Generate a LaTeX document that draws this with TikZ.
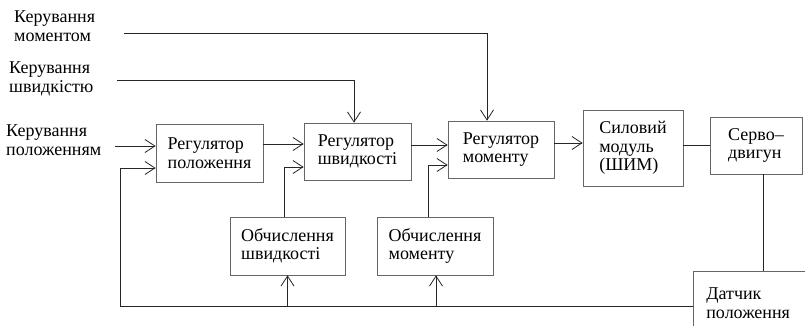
\documentclass[tikz,border=0pt]{standalone}
\usepackage{fontspec}
\setmainfont{Liberation Serif}
\usetikzlibrary{arrows.meta}

\begin{document}
\begin{tikzpicture}[x=1pt,y=-1pt,font=\fontsize{18}{18.5}\selectfont,
  blk/.style={draw=black!60, line width=0.7pt, align=left, inner sep=0pt},
  lbl/.style={align=left, inner sep=0pt, anchor=north west},
  ln/.style={draw=black!85, line width=0.8pt},
  arr/.style={ln, -{Straight Barb[length=10pt,width=13pt]}}]
\useasboundingbox (0,0) rectangle (805,326);
% inputs
\node[lbl] (tkm) at (14,11) {Керування\\моментом};
\node[lbl] (tks) at (9,62) {Керування\\швидкістю};
\node[lbl] (tkp) at (6,125) {Керування\\положенням};
\coordinate (km) at (124,33);
\coordinate (ks) at (117,80);
\coordinate (kp) at (115,146);
\coordinate (fb) at (120,306);
% blocks
\node[blk, minimum width=107, minimum height=58] (rp) at (209.5,153) {Регулятор\\положення};
\node[blk, minimum width=107, minimum height=57] (rs) at (357.5,151.5) {Регулятор\\швидкості};
\node[blk, minimum width=106, minimum height=57] (rm) at (501,149.5) {Регулятор\\моменту};
\node[blk, minimum width=100, minimum height=76] (sm) at (633,148) {Силовий\\модуль\\(ШИМ)};
\node[blk, minimum width=92, minimum height=57] (sd) at (756,145.5) {Серво–\\двигун};
\node[blk, minimum width=115, minimum height=58] (os) at (287.5,246) {Обчислення\\швидкості};
\node[blk, minimum width=116, minimum height=58] (om) at (435,246) {Обчислення\\моменту};
\node[blk, anchor=north west, text width=100, inner xsep=13, minimum height=64] (dp) at (693,271) {Датчик\\положення};
% forward path
\draw[arr] (kp) -- (kp -| rp.west);
\draw[arr] ([yshift=9]rp.east) -- ([yshift=9]rp.east -| rs.west);
\draw[arr] ([yshift=6.5]rs.east) -- ([yshift=6.5]rs.east -| rm.west);
\draw[arr] ([yshift=6.5]rm.east) -- ([yshift=6.5]rm.east -| sm.west);
\draw[ln] (sd.west) -- (sd.west -| sm.east);
\draw[ln] ([xshift=7]sd.south) -- ([xshift=7]sd.south |- dp.north);
\draw[arr] (ks) -| ([xshift=-3.5]rs.north);
\draw[arr] (km) -| ([xshift=-14]rm.north);
% feedback
\draw[arr] (dp.west |- fb) -- (fb) |- ([yshift=-15]rp.west);
\draw[arr] (os.south |- fb) -- (os.south);
\draw[arr] ([xshift=1]om.south |- fb) -- ([xshift=1]om.south);
\draw[arr] ([xshift=-3.5]os.north) |- ([yshift=-15.5]rs.west);
\draw[arr] ([xshift=-7]om.north) |- ([yshift=-15.5]rm.west);
\end{tikzpicture}
\end{document}
